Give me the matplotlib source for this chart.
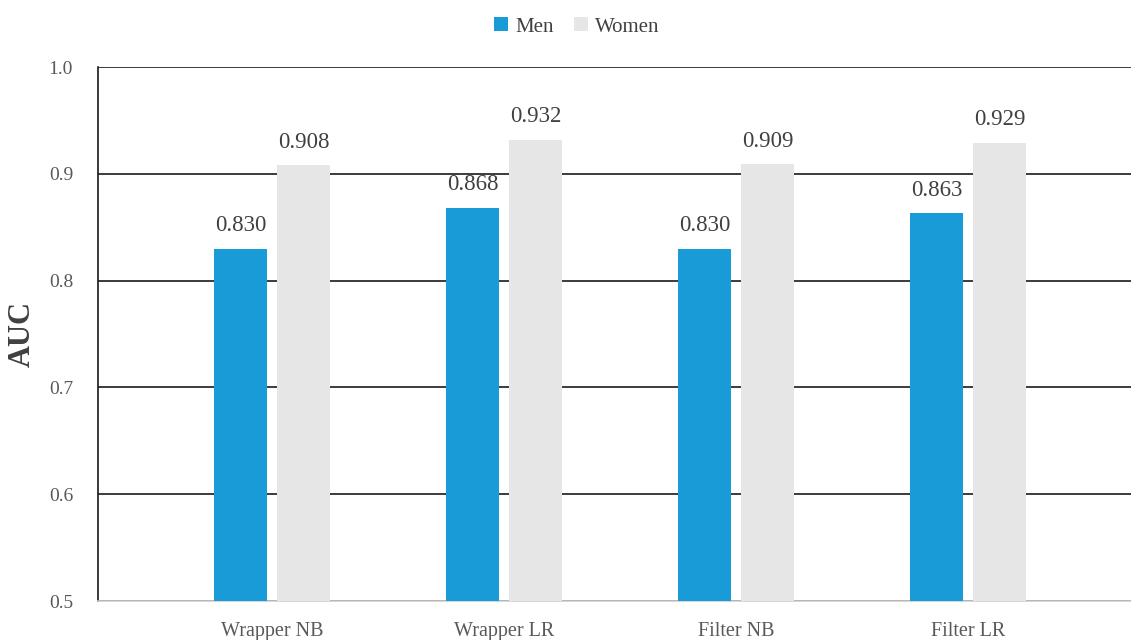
import matplotlib
matplotlib.use("Agg")
import matplotlib.pyplot as plt
import numpy as np

categories = ["Wrapper NB", "Wrapper LR", "Filter NB", "Filter LR"]
men = [0.830, 0.868, 0.830, 0.863]
women = [0.908, 0.932, 0.909, 0.929]
series_names = ["Men", "Women"]
yticks = [0.5, 0.6, 0.7, 0.8, 0.9, 1.0]

plt.rcParams["font.family"] = ["Liberation Serif", "DejaVu Serif"]

W, H = 1131, 640
fig = plt.figure(figsize=(W / 100, H / 100), dpi=100)
left, right, top, bottom = 98, 1142, 67, 601
ax = fig.add_axes([left / W, 1 - bottom / H, (right - left) / W, (bottom - top) / H])

x = np.arange(len(categories))
bw = 0.225
off = 0.136
c_men = "#189bd7"
c_women = "#e6e6e6"

b1 = ax.bar(x - off, men, bw, color=c_men, label=series_names[0], zorder=3)
b2 = ax.bar(x + off, women, bw, color=c_women, label=series_names[1], zorder=3)

for bars, vals in ((b1, men), (b2, women)):
    for r, v in zip(bars, vals):
        ax.annotate(f"{v:.3f}", (r.get_x() + r.get_width() / 2, v),
                    xytext=(0, 9), textcoords="offset points",
                    ha="center", va="bottom", fontsize=16.5, color="#404040")

ax.set_xlim(-0.75, 3.75)
ax.set_ylim(0.5, 1.0)
ax.set_yticks(yticks)
ax.set_yticklabels([f"{t:.1f}" for t in yticks])
ax.set_xticks(x)
ax.set_xticklabels(categories)
ax.tick_params(axis="y", length=0, pad=18, labelsize=14, labelcolor="#595959")
ax.tick_params(axis="x", length=0, pad=15, labelsize=14.5, labelcolor="#595959")

ax.yaxis.grid(True, color="#1a1a1a", linewidth=1.2, zorder=1)
ax.set_axisbelow(True)
for s in ("top", "right"):
    ax.spines[s].set_visible(False)
ax.spines["left"].set_color("#1a1a1a")
ax.spines["left"].set_linewidth(1.2)
ax.spines["bottom"].set_color("#d0d0d0")
ax.spines["bottom"].set_linewidth(1.2)

ax.set_ylabel("AUC", fontsize=22, fontweight="bold", color="#404040")
ax.yaxis.set_label_coords((37 - left) / (right - left), (bottom - 334) / (bottom - top))

fig.legend(handles=[b1, b2], labels=series_names, loc="center",
           bbox_to_anchor=(577 / W, 1 - 27 / H), ncol=2, frameon=False,
           fontsize=15, handlelength=0.65, handleheight=0.65, handletextpad=0.35,
           columnspacing=1.0, labelcolor="#404040")

fig.savefig("out.png", dpi=100)
